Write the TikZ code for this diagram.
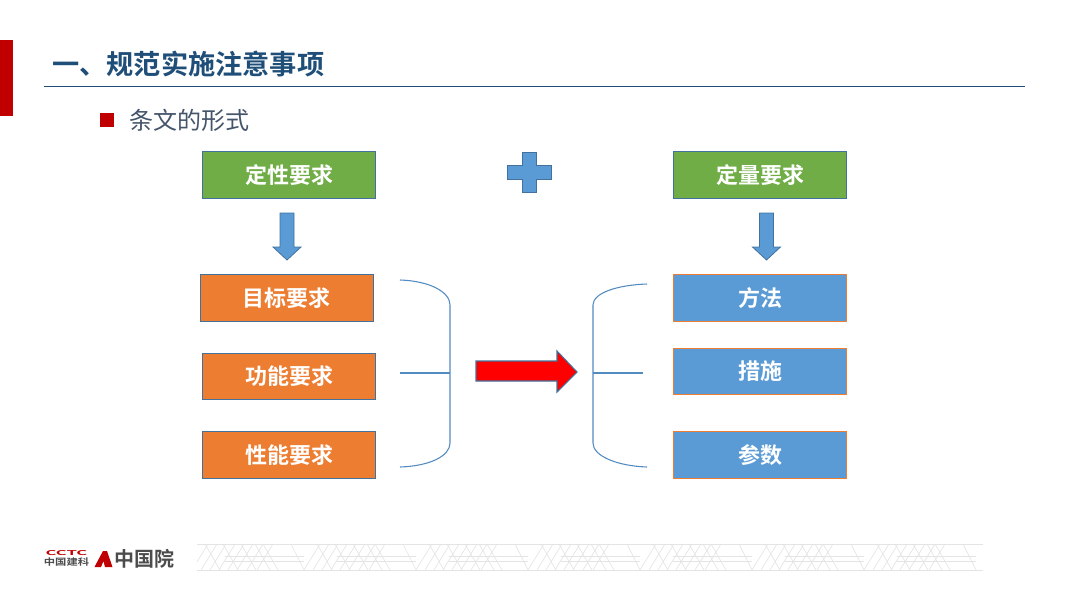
\documentclass[tikz,border=0pt]{standalone}
\usepackage{fontspec}
\setmainfont{Noto Sans CJK SC}[BoldFont={Noto Sans CJK SC Bold}]
\usetikzlibrary{positioning}
\definecolor{titleblue}{HTML}{1F4E79}
\definecolor{barred}{HTML}{C00000}
\definecolor{boxgreen}{HTML}{70AD47}
\definecolor{boxorange}{HTML}{ED7D31}
\definecolor{boxblue}{HTML}{5B9BD5}
\definecolor{edgeblue}{HTML}{41719C}
\definecolor{subgrey}{HTML}{44546A}
\definecolor{bandgrey}{HTML}{E4E4E4}
\begin{document}
\begin{tikzpicture}[x=0.75pt,y=-0.75pt]
    % Define styles
    \tikzset{
        reqbox/.style={rectangle, minimum width=129.8pt, minimum height=34.6pt, inner sep=0pt, text centered, text=white, font=\bfseries\fontsize{16.5}{18}\selectfont},
        greenbox/.style={reqbox, fill=boxgreen, draw=edgeblue, line width=0.7pt},
        orangebox/.style={reqbox, fill=boxorange, draw=edgeblue, line width=0.7pt},
        bluebox/.style={reqbox, fill=boxblue, draw=boxorange, line width=0.7pt},
        blockarrow/.style={fill=boxblue, draw=edgeblue, line width=0.6pt},
        bracket/.style={draw=boxblue!90!black, line width=0.8pt},
        bandline/.style={draw=bandgrey, line width=0.5pt}
    }
    \useasboundingbox (0,0) rectangle (1067,600);

    % Header
    \fill[barred] (0,40) rectangle (13,116);
    \node (title) [anchor=west, text=titleblue, font=\bfseries\fontsize{20.4}{22}\selectfont, inner sep=0pt] at (52,64) {一、规范实施注意事项};
    \draw[titleblue, line width=0.8pt] (44,86.5) -- (1025,86.5);
    \fill[barred] (100,113) rectangle (114,127);
    \node (subtitle) [anchor=west, text=subgrey, font=\fontsize{18}{20}\selectfont, inner sep=0pt] at (129,120) {条文的形式};

    % Nodes
    \node (qualitative) [greenbox] at (289,175) {定性要求};
    \node (quantitative) [greenbox] at (760,175) {定量要求};
    \node (goal) [orangebox] at (286.5,298) {目标要求};
    \node (function) [orangebox] at (289,376.5) {功能要求};
    \node (performance) [orangebox] at (289,455) {性能要求};
    \node (method) [bluebox] at (760,298) {方法};
    \node (measure) [bluebox] at (760,371.5) {措施};
    \node (parameter) [bluebox] at (760,455) {参数};

    % Block arrows and plus
    \draw[blockarrow] (522,152) -- (536,152) -- (536,165) -- (551,165) -- (551,179) -- (536,179) -- (536,192) -- (522,192) -- (522,179) -- (507,179) -- (507,165) -- (522,165) -- cycle;
    \foreach \cx in {287,766.5}{
        \draw[blockarrow] (\cx-7,213) -- (\cx+7,213) -- (\cx+7,247) -- (\cx+14,247) -- (\cx,260) -- (\cx-14,247) -- (\cx-7,247) -- cycle;
    }
    \draw[fill=red, draw=edgeblue, line width=0.8pt] (476,361) -- (557,361) -- (557,351) -- (577,372) -- (557,392) -- (557,381) -- (476,381) -- cycle;

    % Brackets
    \draw[bracket] (400,280) .. controls (430,281) and (450,292) .. (450,305) -- (450,443) .. controls (450,456) and (430,466) .. (400,467);
    \draw[bracket] (400,373) -- (450,373);
    \draw[bracket] (647,284) .. controls (617,285) and (593,293) .. (593,305) -- (593,443) .. controls (593,456) and (617,466) .. (647,467);
    \draw[bracket] (593,373) -- (643,373);

    % Logo
    \node (cctc) [anchor=center, text=barred, xscale=2.5, font=\bfseries\fontsize{5}{5}\selectfont, inner sep=0pt] at (66.5,553.3) {CCTC};
    \node (cnbm) [anchor=center, text=black!70, xscale=1.25, font=\bfseries\fontsize{6.8}{7}\selectfont, inner sep=0pt] at (66.5,562.5) {中国建科};
    \fill[barred] (94.5,567) -- (103,551) -- (107,551) -- (112.5,567) -- (105,567) -- (103.5,561) -- (101,567) -- cycle;
    \node (cabr) [anchor=west, text=black!70, font=\bfseries\fontsize{15}{16}\selectfont, inner sep=0pt] at (114,559) {中国院};

    % Footer band
    \draw[bandline] (197,544) -- (983,544) (197,570) -- (983,570);
    \clip (197,544) rectangle (983,570);
    \foreach \px in {197,309,421,533,645,757,869}{
        \foreach \dx in {-5,4,13,22,31,40,50,60}{
            \draw[bandline] (\px+\dx,570) -- (\px+\dx+16,544);
        }
        \foreach \dx in {8,26,44,58,66}{
            \draw[bandline] (\px+\dx,544) -- (\px+\dx+15,570);
        }
        \draw[bandline] (\px+28,556) -- (\px+107,556) (\px+28,561) -- (\px+107,561);
        \draw[bandline] (\px+94,544) -- (\px+107,570);
    }
\end{tikzpicture}
\end{document}
